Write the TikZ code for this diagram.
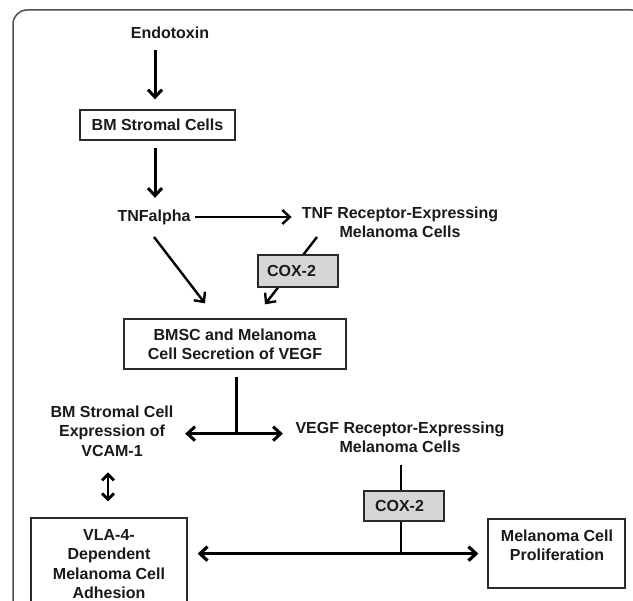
\documentclass[tikz,border=0pt]{standalone}
\usepackage{fontspec}
\setmainfont{Liberation Sans}
\usetikzlibrary{arrows.meta,calc,fit}
\definecolor{txt}{HTML}{1A1A1A}
\definecolor{boxc}{HTML}{2A2A2A}
\definecolor{coxfill}{HTML}{D6D6D6}
\definecolor{framec}{HTML}{505050}
\begin{document}
\begin{tikzpicture}[x=1pt,y=-1pt,
  every node/.style={font=\bfseries\fontsize{16}{19.3}\selectfont, text=txt},
  lbl/.style={align=center, inner sep=3pt},
  box/.style={draw=boxc, line width=1.3pt},
  cox/.style={draw=boxc, fill=coxfill, line width=1.3pt, minimum width=80pt, align=left},
  tip/.style={-{Straight Barb[length=7.5pt,width=14pt]}},
  arr/.style={draw=black, line width=3pt, tip},
  thinarr/.style={draw=black, line width=2.4pt, tip},
  dbl/.style={draw=black, line width=2.8pt, {Straight Barb[length=6pt,width=12pt]}-{Straight Barb[length=6pt,width=12pt]}},
  stem/.style={draw=black, line width=3pt},
  framestyle/.style={draw=framec, line width=1.5pt, rounded corners=14pt}
]
\useasboundingbox (0,0) rectangle (633,601);
\fill[white] (0,0) rectangle (633,601);
\draw[framestyle] (13,10) rectangle (645,640);

% nodes
\node[lbl] (endo) at (170,33) {Endotoxin};
\node[box, minimum width=155pt, minimum height=30pt, inner sep=0pt] (bmsc) at (157.5,125) {BM Stromal Cells};
\node[lbl] (tnfa) at (154,217) {TNFalpha};
\node[lbl] (tnfr) at (400,222) {TNF Receptor-Expressing\\Melanoma Cells};
\node[box, minimum width=222pt, minimum height=50pt, align=center, inner sep=0pt] (vegfbox) at (235,344) {BMSC and Melanoma\\Cell Secretion of VEGF};
\node[lbl] (vcam) at (112,431) {BM Stromal Cell\\Expression of\\VCAM-1};
\node[lbl] (vegfr) at (400,437) {VEGF Receptor-Expressing\\Melanoma Cells};
\node[box, fit={(31,518) (187,625)}, inner sep=0pt] (vlabox) {};
\node[lbl] (vla) at (109,564) {VLA-4-\\Dependent\\Melanoma Cell\\Adhesion};
\node[box, fit={(488,519) (625,588)}, inner sep=0pt] (prolbox) {};
\node[lbl] (prol) at (557,545.5) {Melanoma Cell\\Proliferation};

% connectors, upper part
\draw[arr, shorten <=8pt, shorten >=10pt] ([xshift=-2.5pt]bmsc.north |- endo.south) -- ([xshift=-2.5pt]bmsc.north);
\draw[arr, shorten <=7.5pt, shorten >=8.5pt] ([xshift=-2.5pt]bmsc.south) -- ([xshift=-2.5pt]bmsc.south |- tnfa.north);
\draw[thinarr, shorten <=1.5pt, shorten >=7pt] (tnfa.east) -- (tnfa.east -| tnfr.west);
\draw[thinarr] ($(tnfa.center)+(0,20)$) -- ($(vegfbox.north)+(-30,-15)$);
\draw[thinarr] ($(tnfr.center)+(-83,15)$) -- ($(vegfbox.north)+(30,-14)$);
\node[cox, minimum height=32pt, inner xsep=9pt, text width=62pt] (cox1) at (298,271) {COX-2};

% middle T junction
\coordinate (j1) at ($(vegfbox.south)+(1,64)$);
\draw[stem] ($(vegfbox.south)+(1,7)$) -- ([yshift=1.5pt]j1);
\draw[arr, shorten >=8.7pt] (j1) -- (j1 -| vcam.east);
\draw[arr, shorten >=9.5pt] (j1) -- (j1 -| vegfr.west);
\draw[dbl, shorten <=13pt, shorten >=16pt] ([xshift=-1pt]vlabox.north |- vcam.south) -- ([xshift=-1pt]vlabox.north);

% lower part
\node[cox, minimum height=30pt, inner xsep=11pt, text width=58pt] (cox2) at (404,506) {COX-2};
\draw[stem, line width=2.4pt, shorten <=9.5pt] ([xshift=-3pt]cox2.north |- vegfr.south) -- ([xshift=-3pt]cox2.north);
\coordinate (j2) at ($(cox2.south)+(-3,32)$);
\draw[stem, line width=2.4pt] ([xshift=-3pt]cox2.south) -- ([yshift=1.5pt]j2);
\draw[arr, line width=3.2pt, shorten >=10pt] (j2) -- (j2 -| vlabox.east);
\draw[arr, line width=3.2pt, shorten >=9pt] (j2) -- (j2 -| prolbox.west);
\end{tikzpicture}
\end{document}
